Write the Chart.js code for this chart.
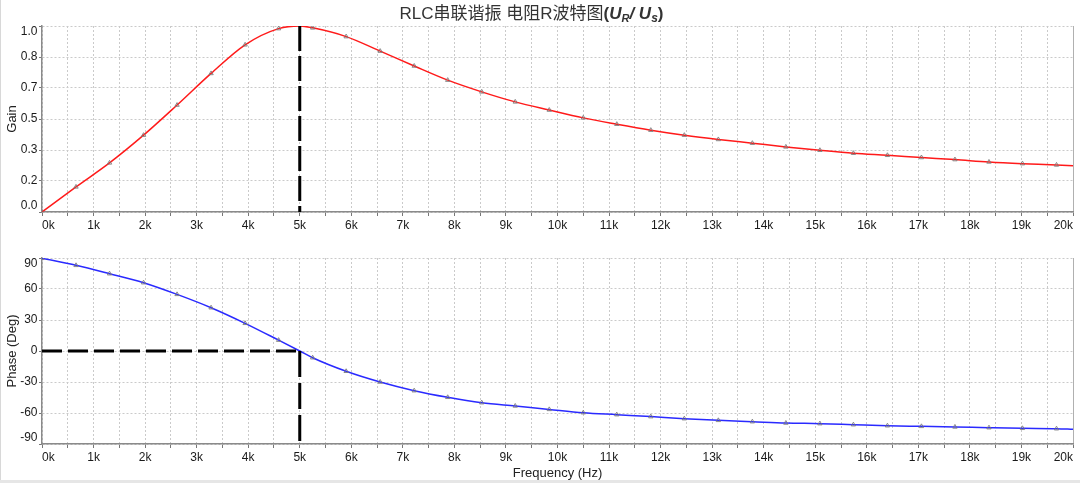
<!DOCTYPE html>
<html><head><meta charset="utf-8">
<script src="https://cdn.jsdelivr.net/npm/chart.js@4/dist/chart.umd.min.js"></script>
<style>
html,body{margin:0;padding:0;background:#fff;}
#wrap{position:relative;width:1080px;height:483px;overflow:hidden;background:#fff;}
#c1{position:absolute;left:0;top:0;}
#c2{position:absolute;left:0;top:240px;}
#edgeL{position:absolute;left:0;top:0;width:1px;height:483px;background:#d8d8d8;}
#edgeB{position:absolute;left:0;bottom:0;width:1080px;height:3px;background:#e6e6e6;}
</style></head><body>
<div id="wrap">
<canvas id="c1" width="1080" height="240"></canvas>
<canvas id="c2" width="1080" height="243"></canvas>
<div id="edgeL"></div><div id="edgeB"></div>
</div>
<script>
// ---- data (frequency in kHz) ----
const freqK = [0,0.66,1.31,1.97,2.62,3.28,3.94,4.59,5.0,5.25,5.9,6.56,7.22,7.87,8.53,9.18,9.84,10.5,11.15,11.81,12.46,13.12,13.78,14.43,15.09,15.74,16.4,17.06,17.71,18.37,19.02,19.68,20.0];
const gainValues = [0,0.135,0.264,0.413,0.575,0.745,0.899,0.986,1.0,0.99,0.943,0.865,0.785,0.709,0.646,0.592,0.548,0.506,0.472,0.44,0.413,0.39,0.37,0.35,0.332,0.316,0.305,0.293,0.282,0.269,0.26,0.253,0.248];
const phaseValues = [89.7,82.9,74.8,66.1,54.8,41.9,26.8,10.5,0,-6.5,-19.6,-30,-38.4,-44.8,-50,-53.2,-56.5,-59.7,-61.6,-63.5,-65.5,-67.1,-68.4,-69.7,-70.3,-71.3,-72.3,-72.9,-73.5,-74.2,-74.8,-75.2,-75.8];
const resonanceK = 5;
const freqTickLabels = ['0k','1k','2k','3k','4k','5k','6k','7k','8k','9k','10k','11k','12k','13k','14k','15k','16k','17k','18k','19k','20k'];
const gainTickValues = [0,0.1667,0.3333,0.5,0.6667,0.8333,1];
const gainTickLabels = ['0.0','0.2','0.3','0.5','0.7','0.8','1.0'];
const phaseTickValues = [-90,-60,-30,0,30,60,90];
const phaseTickLabels = ['-90','-60','-30','0','30','60','90'];

const FONT = '"Liberation Sans", Arial, "Noto Sans CJK SC", sans-serif';
const GRID = '#cacaca';

function noMarker(ctx){ const f = freqK[ctx.dataIndex]; return (f === resonanceK || f === 20) ? 0 : 2.5; }

function xScale(height, withTitle){
  return {
    type:'linear', min:0, max:20,
    afterBuildTicks: s => { const t=[]; for (let i=0;i<freqTickLabels.length*2-1;i++) t.push({value:i/2}); s.ticks=t; },
    afterFit: s => { s.height = height; },
    ticks:{ autoSkip:false, maxRotation:0, align:'inner', padding:2, color:'#1a1a1a', font:{family:FONT,size:12},
      callback: v => (Math.abs(v - Math.round(v)) < 1e-6) ? freqTickLabels[Math.round(v)] : '' },
    grid:{ color: c => (c.tick && c.tick.value === 20) ? '#b0b0b0' : GRID, lineWidth:1, tickLength:4, tickColor:'#777', tickBorderDash:[] },
    border:{ color:'#8a8a8a', width:1.5, dash: c => (c.tick && c.tick.value === 20) ? [] : [2,2] },
    title:{ display:withTitle, text:'Frequency (Hz)', color:'#222', font:{family:FONT,size:13}, padding:{top:0,bottom:2} }
  };
}
function yScale(min, max, vals, title){
  return {
    type:'linear', min:min, max:max,
    afterBuildTicks: s => { s.ticks = vals.map(v => ({value:v})); },
    afterFit: s => { s.width = 42; },
    ticks:{ display:false },
    grid:{ color:GRID, lineWidth:1, tickLength:3, tickColor:'#777', tickBorderDash:[] },
    border:{ color:'#8a8a8a', width:1.5, dash:[2,2] },
    title:{ display:true, text:title, color:'#222', font:{family:FONT,size:13}, padding:{top:5,bottom:0} }
  };
}

const yLabelPlugin = {
  id:'yLabels',
  afterDraw(chart, args, opts){
    const s = chart.scales.y, ctx = chart.ctx, labels = opts.labels;
    ctx.save();
    ctx.font = '12px ' + FONT; ctx.fillStyle = '#1a1a1a'; ctx.textAlign = 'right';
    s.ticks.forEach((t,i) => {
      const y = s.getPixelForValue(t.value);
      ctx.textBaseline = i === 0 ? 'bottom' : (i === s.ticks.length-1 ? 'top' : 'middle');
      ctx.fillText(labels[i], s.right - 4.5, y);
    });
    ctx.restore();
  }
};

const titlePlugin = {
  id:'richTitle',
  afterDraw(chart){
    const ctx = chart.ctx;
    const segs = [
      {t:'RLC串联谐振 电阻R波特图', f:'17px '+FONT, dy:0},
      {t:'(', f:'bold 17px '+FONT, dy:0},
      {t:'U', f:'italic bold 17px '+FONT, dy:0},
      {t:'R', f:'italic bold 11px '+FONT, dy:3},
      {t:'/ ', f:'italic bold 17px '+FONT, dy:0},
      {t:'U', f:'italic bold 17px '+FONT, dy:0},
      {t:'s', f:'italic bold 12px '+FONT, dy:3},
      {t:')', f:'bold 17px '+FONT, dy:0}
    ];
    ctx.save();
    let total = 0;
    segs.forEach(s => { ctx.font = s.f; s.w = ctx.measureText(s.t).width; total += s.w; });
    let x = 531.5 - total/2;
    ctx.fillStyle = '#333'; ctx.textBaseline = 'alphabetic'; ctx.textAlign = 'left';
    segs.forEach(s => { ctx.font = s.f; ctx.fillText(s.t, x, 19 + s.dy); x += s.w; });
    ctx.restore();
  }
};

const common = {
  responsive:false, animation:false, devicePixelRatio:1,
  plugins:{ legend:{display:false}, tooltip:{enabled:false} },
  elements:{ line:{ cubicInterpolationMode:'monotone' } }
};

new Chart(document.getElementById('c1'), {
  type:'line',
  data:{ datasets:[
    { data:[{x:resonanceK,y:1},{x:resonanceK,y:0}], borderColor:'#000', borderWidth:3, borderDash:[25,5], pointRadius:0, tension:0, cubicInterpolationMode:'default' },
    { data:freqK.map((f,i)=>({x:f,y:gainValues[i]})), borderColor:'#ff1a1a', borderWidth:1.5, pointStyle:'triangle', pointRadius:noMarker, pointBorderColor:'rgba(120,120,120,0.85)', pointBackgroundColor:'rgba(0,0,0,0)', pointBorderWidth:1 }
  ]},
  options:Object.assign({}, common, {
    layout:{ padding:{ left:0, right:7, top:26, bottom:0 } },
    scales:{ x:xScale(28, false), y:yScale(0, 1, gainTickValues, 'Gain') },
    plugins:{ legend:{display:false}, tooltip:{enabled:false}, yLabels:{labels:gainTickLabels} }
  }),
  plugins:[yLabelPlugin, titlePlugin]
});

new Chart(document.getElementById('c2'), {
  type:'line',
  data:{ datasets:[
    { data:[{x:0,y:0},{x:resonanceK,y:0}], borderColor:'#000', borderWidth:3, borderDash:[20,6], pointRadius:0, tension:0, cubicInterpolationMode:'default' },
    { data:[{x:resonanceK,y:0},{x:resonanceK,y:-90}], borderColor:'#000', borderWidth:3, borderDash:[26,6], pointRadius:0, tension:0, cubicInterpolationMode:'default' },
    { data:freqK.map((f,i)=>({x:f,y:phaseValues[i]})), borderColor:'#2a2aff', borderWidth:1.5, pointStyle:'triangle', pointRadius:noMarker, pointBorderColor:'rgba(120,120,120,0.85)', pointBackgroundColor:'rgba(0,0,0,0)', pointBorderWidth:1 }
  ]},
  options:Object.assign({}, common, {
    layout:{ padding:{ left:0, right:7, top:18, bottom:0 } },
    scales:{ x:xScale(39, true), y:yScale(-90, 90, phaseTickValues, 'Phase (Deg)') },
    plugins:{ legend:{display:false}, tooltip:{enabled:false}, yLabels:{labels:phaseTickLabels} }
  }),
  plugins:[yLabelPlugin]
});
</script>
</body></html>
